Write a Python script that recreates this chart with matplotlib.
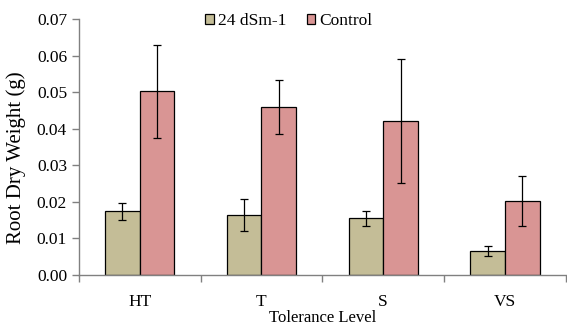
import numpy as np
import matplotlib
matplotlib.use("Agg")
import matplotlib.pyplot as plt

plt.rcParams['font.family'] = ['Liberation Serif', 'DejaVu Serif']

# dados
niveis = ["HT", "T", "S", "VS"]
salino = [0.0174, 0.0164, 0.0155, 0.0066]
salino_err = [0.0024, 0.0043, 0.0021, 0.0014]
controle = [0.0503, 0.0459, 0.0422, 0.0202]
controle_err = [0.0127, 0.0074, 0.0169, 0.0068]

fig = plt.figure(figsize=(5.67, 3.29), dpi=100)
ax = fig.add_axes([0.139, 0.164, 0.859, 0.778])

x = np.arange(len(niveis))
w = 0.284
ax.bar(x - w / 2, salino, w, yerr=salino_err, color="#C4BD97", edgecolor="black",
       linewidth=0.9, label="24 dSm-1",
       error_kw=dict(ecolor="black", elinewidth=0.9, capsize=3, capthick=0.9))
ax.bar(x + w / 2, controle, w, yerr=controle_err, color="#D99594", edgecolor="black",
       linewidth=0.9, label="Control",
       error_kw=dict(ecolor="black", elinewidth=0.9, capsize=3, capthick=0.9))

ax.set_xlim(-0.5, len(niveis) - 0.5)
ax.set_ylim(0, 0.07)
ax.set_yticks(np.arange(0, 0.071, 0.01))
ax.set_yticklabels([f"{v:.2f}" for v in np.arange(0, 0.071, 0.01)], fontsize=12.5)

ax.set_xticks(np.arange(-0.5, len(niveis), 1))
ax.set_xticklabels([])
ax.set_xticks(x, minor=True)
ax.set_xticklabels(niveis, minor=True, fontsize=12.5)
ax.tick_params(axis="x", which="minor", length=0, pad=14)
ax.tick_params(axis="x", which="major", length=5, color="#808080", width=1)
ax.tick_params(axis="y", length=5, color="#808080", width=1)

for lado in ["top", "right"]:
    ax.spines[lado].set_visible(False)
for lado in ["left", "bottom"]:
    ax.spines[lado].set_color("#808080")
    ax.spines[lado].set_linewidth(1)

ax.set_ylabel("Root Dry Weight (g)", fontsize=15)
ax.yaxis.set_label_coords(-0.108, 0.457)
ax.set_xlabel("Tolerance Level", fontsize=12, labelpad=0)

ax.legend(loc="upper center", bbox_to_anchor=(0.431, 1.085), ncol=2, frameon=False,
          fontsize=12.5, handlelength=0.5, handleheight=0.5, handletextpad=0.2,
          columnspacing=1.2)

fig.savefig("out.png", dpi=100)
